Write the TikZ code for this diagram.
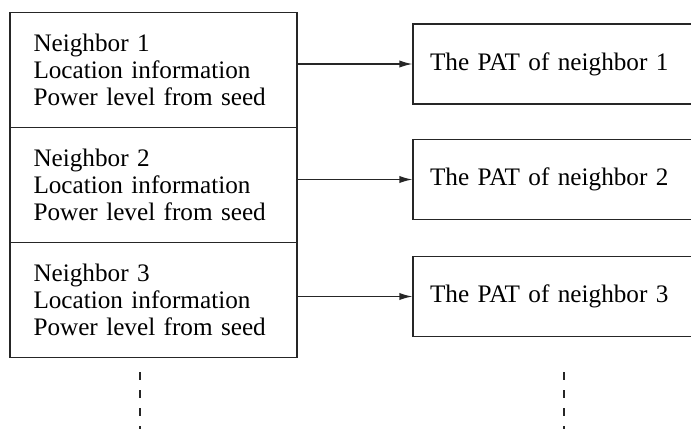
\documentclass[tikz,border=0pt]{standalone}
\usepackage{fontspec}
\setmainfont{Liberation Serif}
\usetikzlibrary{arrows.meta}
\tikzset{
  cell/.style={draw, rectangle, minimum width=143.5pt, minimum height=57.5pt, text width=120pt, align=left, inner sep=0pt},
  pat/.style={draw, rectangle, minimum height=40pt, inner xsep=8.5pt, text width=128pt, align=left},
  link/.style={-{Latex[length=6.5pt,width=3.6pt]}},
  more/.style={dash pattern=on 4pt off 5pt}
}
\begin{document}
\begin{tikzpicture}[x=0.5pt, y=-0.5pt, node distance=57.5pt, line width=0.6pt, draw=black!85, font=\fontsize{12.6}{13.6}\selectfont]
    \useasboundingbox (0,0) rectangle (691,429);
    \clip (0,0) rectangle (691,429);
    \node (nb1) [cell] at (153.5,70) {Neighbor 1\\Location information\\Power level from seed};
    \node (nb2) [cell, below of=nb1] {Neighbor 2\\Location information\\Power level from seed};
    \node (nb3) [cell, below of=nb2] {Neighbor 3\\Location information\\Power level from seed};

    \node (pat1) [pat, right of=nb1, node distance=202.25pt, yshift=3pt] {The PAT of neighbor 1};
    \node (pat2) [pat, right of=nb2, node distance=202.25pt, yshift=2.75pt] {The PAT of neighbor 2};
    \node (pat3) [pat, right of=nb3, node distance=202.25pt, yshift=1.75pt] {The PAT of neighbor 3};

    \draw[link] (nb1.east |- pat1.west) -- (pat1.west);
    \draw[link] (nb2.east |- pat2.west) -- (pat2.west);
    \draw[link] (nb3.east |- pat3.west) -- (pat3.west);

    % more neighbors below
    \coordinate (dotsl) at (140,372);
    \coordinate (dotsr) at (564,372);
    \draw[more] (dotsl) -- (dotsl |- 0,429);
    \draw[more] (dotsr) -- (dotsr |- 0,429);
\end{tikzpicture}
\end{document}
